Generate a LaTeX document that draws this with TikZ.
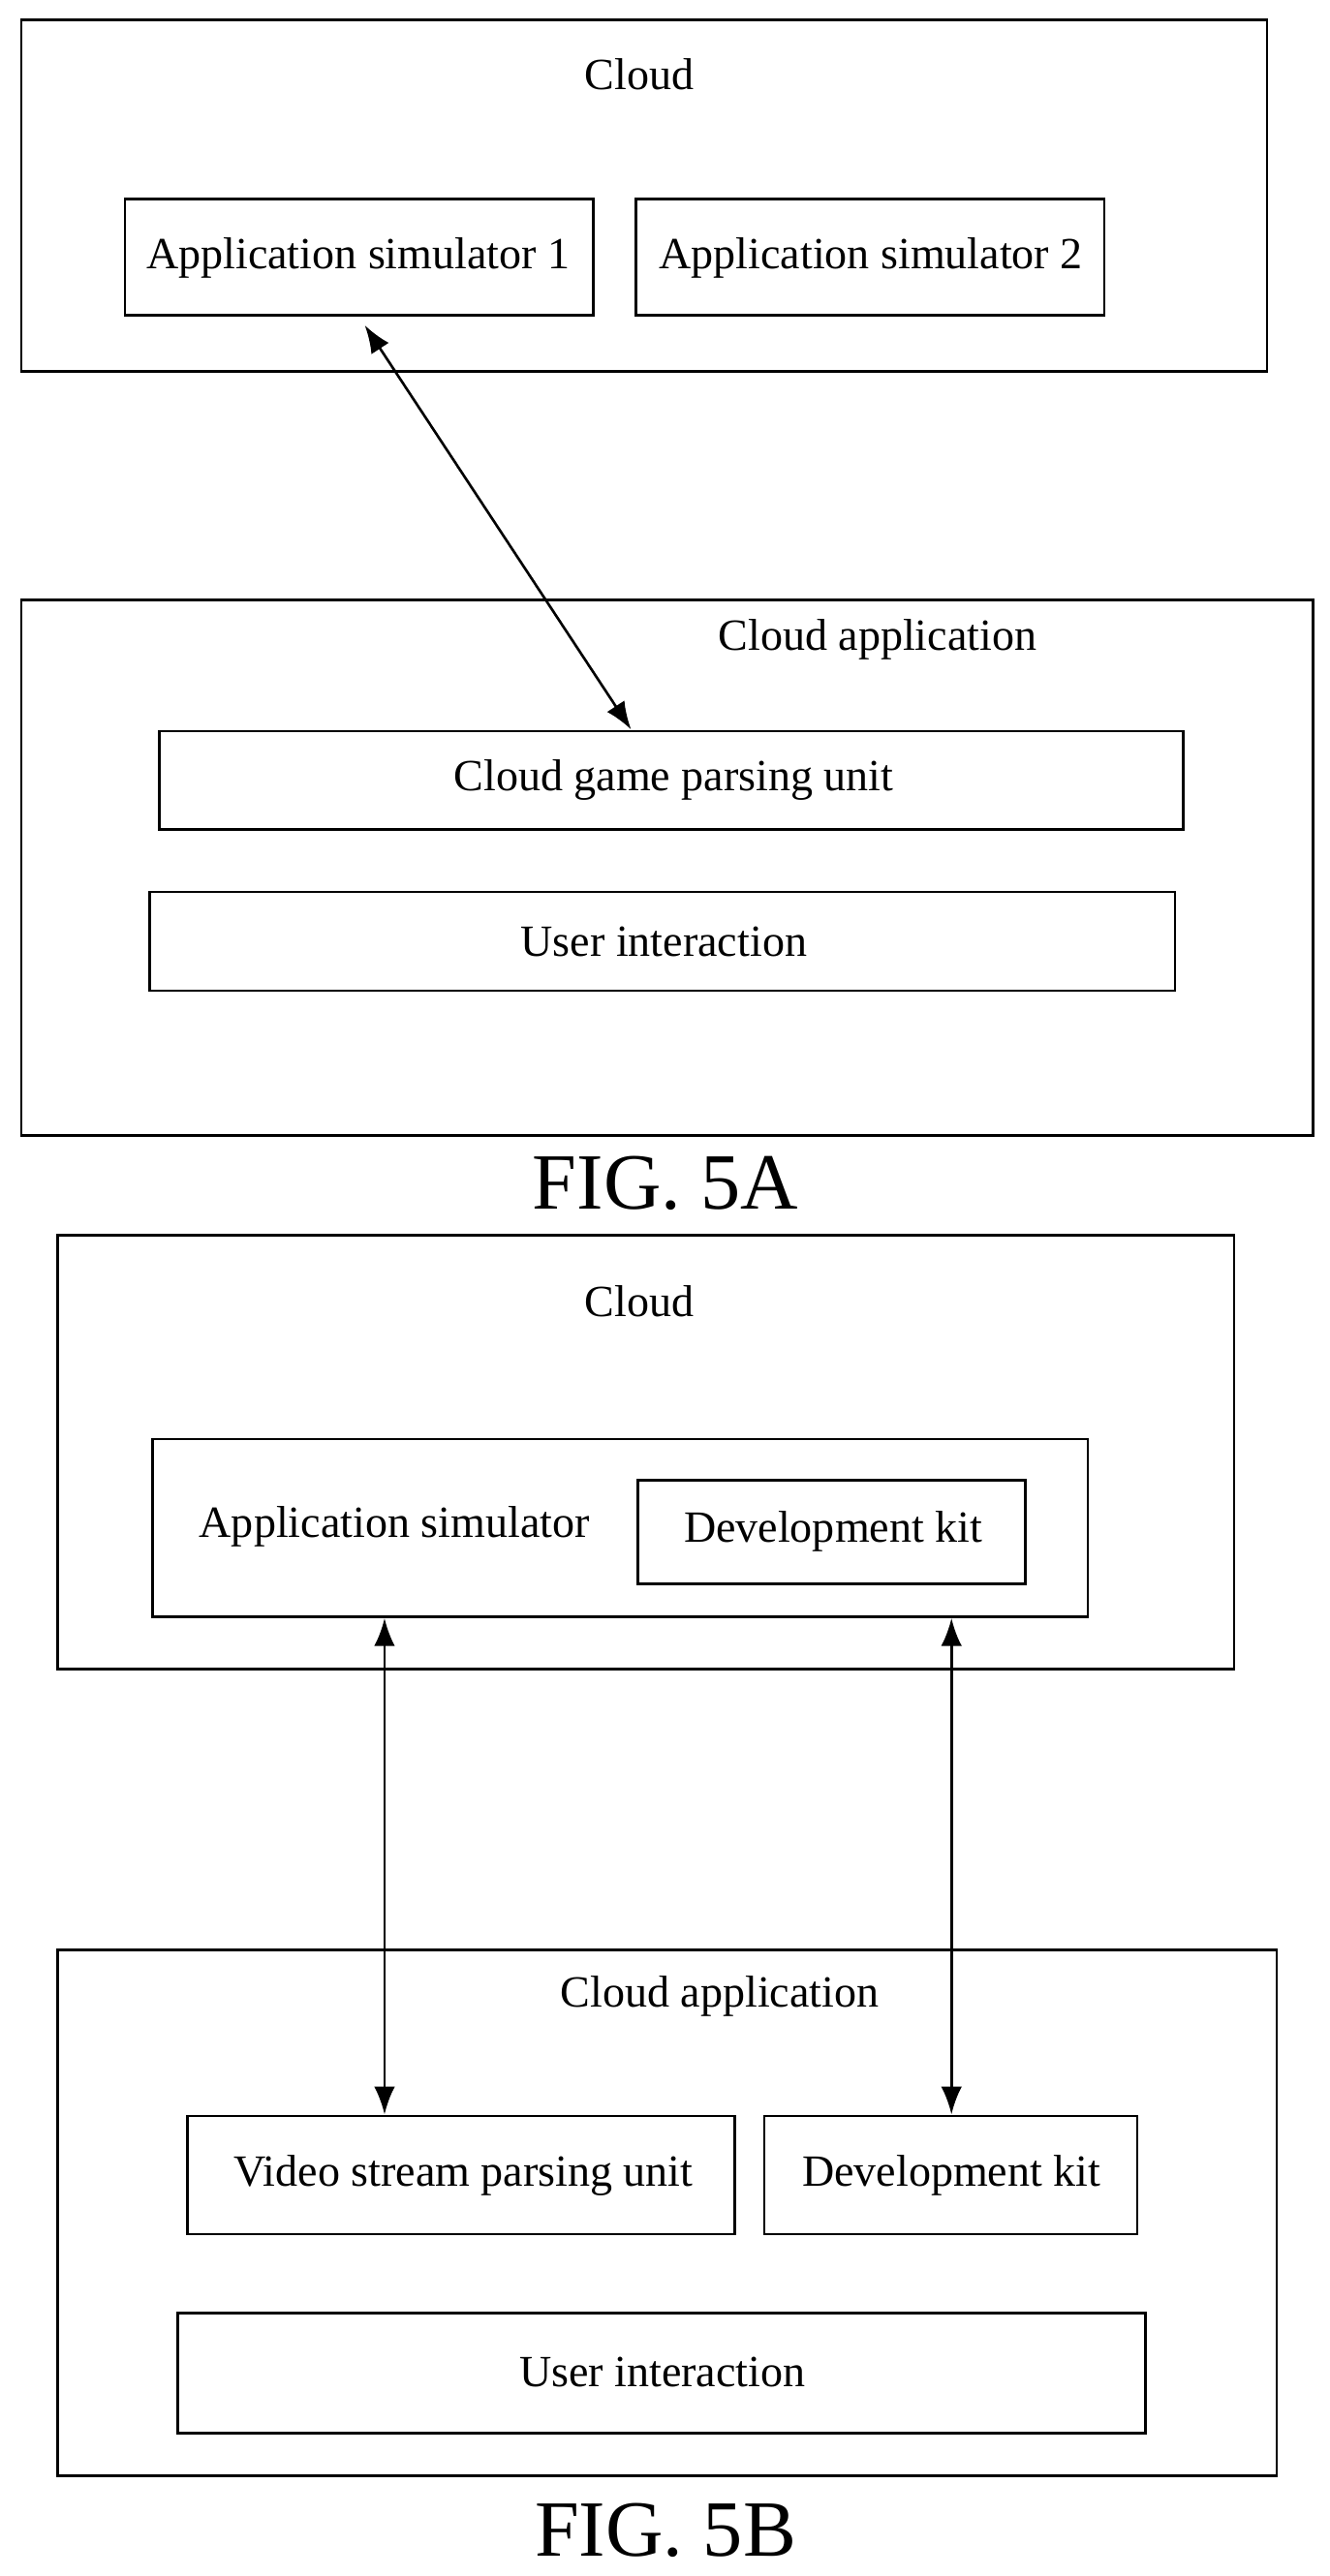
\documentclass[tikz,border=0pt]{standalone}
\usepackage{fontspec}
\setmainfont{Liberation Serif}
\usetikzlibrary{arrows.meta}
\begin{document}
\begin{tikzpicture}[x=0.025cm,y=-0.025cm,
    box/.style={draw,line width=1.1pt,rectangle,inner sep=0pt},
    lbl/.style={font=\fontsize{19.3}{22}\selectfont},
    fig/.style={font=\fontsize{34.5}{40}\selectfont},
    link/.style={line width=1.1pt,{Latex[length=12pt,width=9pt]}-{Latex[length=12pt,width=9pt]}}]
\useasboundingbox (0,0) rectangle (809,1568);
% FIG. 5A
\draw[box] (13,12) rectangle (771,226);
\node[lbl] (cloudA) at (389,45) {Cloud};
\draw[box] (76,121) rectangle (361,192);
\node[lbl] (simOne) at (218,157) {Application simulator 1};
\draw[box] (387,121) rectangle (672,192);
\node[lbl] (simTwo) at (530,157) {Application simulator 2};
\draw[box] (13,365) rectangle (799,691);
\node[lbl] (appA) at (534,389) {Cloud application};
\draw[box] (97,445) rectangle (720,505);
\node[lbl] (parse) at (410,475) {Cloud game parsing unit};
\draw[box] (91,543) rectangle (715,603);
\node[lbl] (userA) at (404,573) {User interaction};
\coordinate (simOneS) at (222,198);
\coordinate (parseN) at (384,444);
\draw[link] (simOneS) -- (parseN);
\node[fig] (figA) at (405,720) {FIG. 5A};
% FIG. 5B
\draw[box] (35,752) rectangle (751,1016);
\node[lbl] (cloudB) at (389,792) {Cloud};
\draw[box] (93,876) rectangle (662,984);
\node[lbl] (sim) at (240,929) {Application simulator};
\draw[box] (388,901) rectangle (624,964);
\node[lbl] (kitUp) at (507,932) {Development kit};
\draw[box] (35,1187) rectangle (777,1507);
\node[lbl] (appB) at (438,1215) {Cloud application};
\draw[box] (114,1288) rectangle (447,1360);
\node[lbl] (video) at (282,1324) {Video stream parsing unit};
\draw[box] (465,1288) rectangle (692,1360);
\node[lbl] (kitDown) at (579,1324) {Development kit};
\draw[box] (108,1408) rectangle (697,1481);
\node[lbl] (userB) at (403,1444) {User interaction};
\coordinate (simS) at (234,985);
\coordinate (videoN) at (234,1287);
\coordinate (simKitS) at (579,985);
\coordinate (kitN) at (579,1287);
\draw[link] (simS) -- (videoN);
\draw[link] (simKitS) -- (kitN);
\node[fig] (figB) at (405,1540) {FIG. 5B};
\end{tikzpicture}
\end{document}
